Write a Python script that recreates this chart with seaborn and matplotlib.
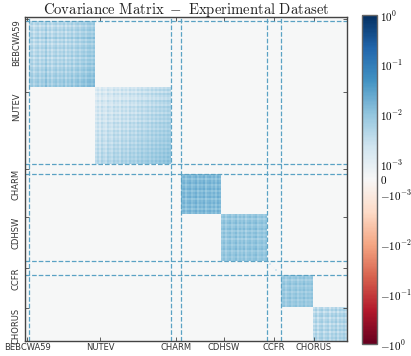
import numpy as np
import matplotlib
matplotlib.use("Agg")
import matplotlib.pyplot as plt
import seaborn as sns
from matplotlib.colors import SymLogNorm

# datasets and their point counts (diagonal sub-blocks per dataset)
datasets = ["BEBCWA59", "NUTEV", "CHARM", "CDHSW", "CCFR", "CHORUS"]

# per-point uncertainty profiles
sig_bebc = [0.005, 0.005]
sig_nutev_1 = [0.055, 0.078, 0.044, 0.066, 0.084, 0.048, 0.074, 0.058, 0.112, 0.050,
               0.080, 0.046, 0.070, 0.088, 0.052, 0.076, 0.060, 0.092, 0.048, 0.082,
               0.062, 0.096, 0.056, 0.086, 0.102, 0.066, 0.094, 0.110, 0.076, 0.116,
               0.124, 0.096, 0.132]
sig_nutev_2 = [0.034, 0.050, 0.030, 0.056, 0.040, 0.032, 0.060, 0.044, 0.036, 0.064,
               0.046, 0.058, 0.038, 0.068, 0.048, 0.062, 0.042, 0.074, 0.054, 0.066,
               0.048, 0.078, 0.058, 0.084, 0.060, 0.072, 0.088, 0.062, 0.094, 0.070,
               0.098, 0.076, 0.104, 0.082, 0.110, 0.086, 0.116, 0.098]
sig_charm = [0.006, 0.005, 0.007, 0.006, 0.005]
sig_cdhsw_1 = [0.106, 0.136, 0.088, 0.128, 0.146, 0.096, 0.120, 0.152, 0.092, 0.132,
               0.110, 0.148, 0.086, 0.124, 0.140, 0.100, 0.134, 0.090, 0.144, 0.114]
sig_cdhsw_2 = [0.086, 0.114, 0.070, 0.104, 0.122, 0.078, 0.098, 0.128, 0.074, 0.110,
               0.084, 0.118, 0.068, 0.102, 0.116, 0.082, 0.106, 0.126, 0.076, 0.096,
               0.112, 0.084, 0.104]
var_ccfr = [0.0003, 0.0018, 0.0002, 0.0003, 0.0022, 0.0002, 0.0003]  # diagonal only
sig_chorus_1 = [0.080, 0.104, 0.068, 0.096, 0.114, 0.074, 0.092, 0.110, 0.070, 0.100,
                0.084, 0.116, 0.076, 0.098, 0.088, 0.106]
sig_chorus_2 = [0.054, 0.084, 0.044, 0.076, 0.092, 0.048, 0.070, 0.088, 0.046, 0.080,
                0.060, 0.094, 0.050, 0.082, 0.064, 0.090, 0.058]

cbar_ticks = [-1, -1e-1, -1e-2, -1e-3, 0, 1e-3, 1e-2, 1e-1, 1]
cbar_labels = [r"$-10^{0}$", r"$-10^{-1}$", r"$-10^{-2}$", r"$-10^{-3}$", r"$0$",
               r"$10^{-3}$", r"$10^{-2}$", r"$10^{-1}$", r"$10^{0}$"]

# build block-diagonal covariance
blocks = [("BEBCWA59", sig_bebc), ("NUTEV", sig_nutev_1), ("NUTEV", sig_nutev_2),
          ("CHARM", sig_charm), ("CDHSW", sig_cdhsw_1), ("CDHSW", sig_cdhsw_2),
          ("CCFR", None), ("CHORUS", sig_chorus_1), ("CHORUS", sig_chorus_2)]
n_tot = sum(len(b) if b is not None else len(var_ccfr) for _, b in blocks)
cov = np.zeros((n_tot, n_tot))
owner = []
i0 = 0
for name, sig in blocks:
    if sig is None:
        n = len(var_ccfr)
        cov[i0:i0 + n, i0:i0 + n] = np.diag(var_ccfr)
    else:
        s = np.array(sig)
        n = len(s)
        cov[i0:i0 + n, i0:i0 + n] = np.outer(s, s)
    owner += [name] * n
    i0 += n
owner = np.array(owner)

starts = [np.where(owner == d)[0][0] for d in datasets]
ends = [np.where(owner == d)[0][-1] + 1 for d in datasets]
mids = [(a + b) / 2 for a, b in zip(starts, ends)]

plt.rcParams["mathtext.fontset"] = "cm"

fig = plt.figure(figsize=(4.11, 3.56), dpi=100)
ax = fig.add_axes([25 / 411, 15 / 356, 322 / 411, 324 / 356])
cax = fig.add_axes([362 / 411, 12 / 356, 15 / 411, 329 / 356])

norm = SymLogNorm(linthresh=1e-3, linscale=0.27, vmin=-1, vmax=1, base=10)
sns.heatmap(cov, ax=ax, cbar_ax=cax, cmap="RdBu", norm=norm,
            xticklabels=False, yticklabels=False, rasterized=True)

# dataset separators
for b in ends[:-1]:
    ax.axvline(b, color="#5aa2c4", ls="--", lw=0.9)
    ax.axhline(b, color="#5aa2c4", ls="--", lw=0.9)

for sp in ax.spines.values():
    sp.set_visible(True)
    sp.set_color("#444444")
    sp.set_linewidth(1.0)

ax.set_xticks(mids)
ax.set_xticklabels(datasets, fontsize=6, color="#333333")
ax.set_yticks(mids)
ax.set_yticklabels(datasets, fontsize=6, color="#333333")
ax.tick_params(axis="both", direction="in", length=3, width=0.6, color="#444444",
               top=True, right=True)
ax.tick_params(axis="x", pad=1.5, rotation=0)
ax.tick_params(axis="y", pad=3)
for lbl in ax.get_yticklabels():
    lbl.set_rotation(90)
    lbl.set_rotation_mode("anchor")
    lbl.set_ha("right")
    lbl.set_va("bottom")

ax.set_title(r"$\mathrm{Covariance\ Matrix\ -\ Experimental\ Dataset}$",
             fontsize=10.6, pad=2, color="#222222")

cbar = ax.collections[0].colorbar
cbar.set_ticks(cbar_ticks)
cbar.set_ticklabels(cbar_labels)
cax.tick_params(length=0, pad=2, labelsize=8)
cbar.outline.set_visible(True)
cbar.outline.set_edgecolor("#666666")
cbar.outline.set_linewidth(1.0)

fig.savefig("out.png", dpi=100)
